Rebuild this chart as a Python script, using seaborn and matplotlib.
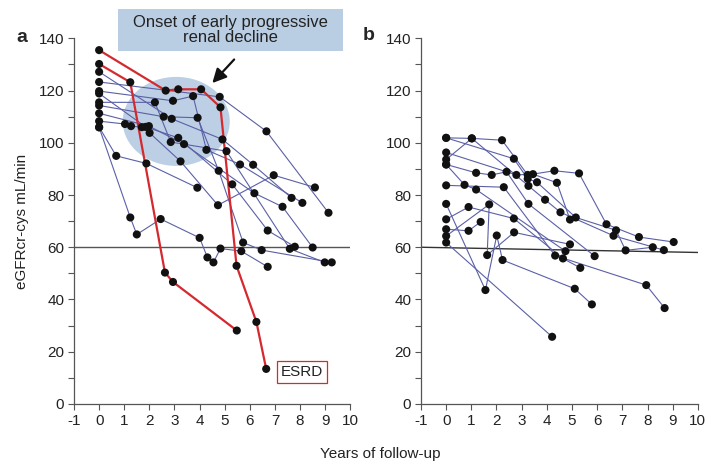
import pandas as pd
import seaborn as sns
import matplotlib
matplotlib.use("Agg")
import matplotlib.pyplot as plt
from matplotlib.patches import Ellipse, Rectangle
from matplotlib.ticker import MultipleLocator

# ---- data (years of follow-up, eGFR) ----
# panel a, blue trajectories
a_years = [
    [0, 2.89, 4.91, 6.13, 7.66],
    [0, 4.8, 6.66, 9.13],
    [0, 2.94, 3.74, 4.27, 5.61, 8.09],
    [0, 1.85, 3.15, 5.3, 6.71, 7.79],
    [0, 2.22, 2.85, 5.07, 7.59, 8.98],
    [0, 2.57, 3.92, 4.76, 5.73, 6.47, 9.26],
    [0, 1.98, 3.38, 6.18, 7.3, 8.5],
    [0, 1.03, 1.27, 1.7, 2.01, 3.24, 4.73, 6.95, 8.59],
    [0, 0.68, 1.88, 3.91],
    [0, 1.24, 1.5, 2.45, 4.0, 4.31, 4.55, 4.83, 5.66, 6.71],
]
a_egfr = [
    [127.2, 109.2, 101.3, 91.6, 78.9],
    [123.3, 117.6, 104.4, 73.2],
    [119.8, 116.1, 117.9, 97.3, 91.7, 77.0],
    [118.9, 106.1, 101.9, 84.1, 66.4, 60.2],
    [115.5, 115.5, 100.3, 96.8, 59.4, 54.2],
    [114.3, 110.0, 109.6, 89.3, 61.8, 58.9, 54.2],
    [111.3, 106.4, 99.5, 80.7, 75.5, 59.9],
    [108.3, 107.2, 106.4, 106.0, 103.8, 92.9, 76.1, 87.6, 82.9],
    [106.0, 95.0, 92.1, 82.8],
    [105.9, 71.4, 64.9, 70.8, 63.6, 56.1, 54.2, 59.5, 58.5, 52.5],
]
# panel a, red (progressors)
red_years = [
    [0, 2.65, 3.15, 4.06, 4.83, 5.47, 6.26, 6.65],
    [0, 1.24, 2.62, 2.94, 5.48],
]
red_egfr = [
    [135.5, 120.0, 120.5, 120.5, 113.6, 52.9, 31.4, 13.4],
    [130.2, 123.2, 50.3, 46.7, 28.1],
]
# panel b trajectories
b_years = [
    [0, 1.02, 2.22, 3.24, 4.3, 5.28, 6.37, 7.66, 9.04],
    [0, 2.69, 3.24, 3.61, 5.15, 6.75, 7.13, 8.21],
    [0, 1.02, 3.27, 3.93, 4.54, 6.65, 8.65],
    [0, 2.79, 3.45, 4.4, 4.92],
    [0, 1.19, 1.81, 2.4, 3.27, 5.9],
    [0, 0.73, 1.19, 4.74],
    [0, 1.56, 2.01, 2.24, 5.11, 5.79],
    [0, 4.21],
    [0, 2.29, 4.33, 7.95, 8.68],
    [0, 0.89, 2.69, 4.64, 5.33],
    [0, 1.71, 1.63, 2.7, 4.92],
    [0, 0.89, 1.37],
]
b_egfr = [
    [101.9, 101.7, 101.0, 87.7, 89.3, 88.3, 68.8, 63.9, 62.0],
    [101.9, 93.9, 86.2, 84.9, 71.4, 66.5, 58.8, 60.0],
    [93.6, 101.7, 83.5, 78.2, 73.4, 64.4, 58.9],
    [96.3, 87.7, 88.0, 84.7, 70.6],
    [91.7, 88.5, 87.7, 88.9, 76.6, 56.6],
    [91.7, 83.9, 82.1, 58.5],
    [76.6, 43.6, 64.5, 55.1, 44.1, 38.1],
    [61.8, 25.7],
    [83.7, 83.0, 56.8, 45.5, 36.7],
    [70.7, 75.4, 71.0, 55.7, 52.1],
    [64.3, 76.4, 57.0, 65.7, 61.1],
    [66.9, 66.3, 69.7],
]
threshold = 60
b_threshold = [60, 58]  # slightly tilted reference line in panel b


def to_long(years, egfr, prefix):
    rows = []
    for i, (xs, ys) in enumerate(zip(years, egfr)):
        for k, (x, y) in enumerate(zip(xs, ys)):
            rows.append({"id": f"{prefix}{i}", "order": k, "years": x, "egfr": y})
    return pd.DataFrame(rows)


df_a = to_long(a_years, a_egfr, "a")
df_red = to_long(red_years, red_egfr, "r")
df_b = to_long(b_years, b_egfr, "b")

sns.set_theme(style="ticks")
plt.rcParams["font.family"] = ["Liberation Sans", "DejaVu Sans"]
plt.rcParams["axes.unicode_minus"] = False
plt.rcParams["axes.edgecolor"] = "#555555"
plt.rcParams["xtick.color"] = "#555555"
plt.rcParams["ytick.color"] = "#555555"
plt.rcParams["xtick.labelcolor"] = "#222222"
plt.rcParams["ytick.labelcolor"] = "#222222"

BLUE = "#5b60a6"
RED = "#d42a2f"

fig = plt.figure(figsize=(7.15, 4.71), dpi=100)
ax_a = fig.add_axes([0.1035, 0.1425, 0.3865, 0.776])
ax_b = fig.add_axes([0.5888, 0.1425, 0.3872, 0.776])

# ellipse marking early decline
ax_a.add_patch(Ellipse((3.07, 108.2), 4.26, 34.1, facecolor="#bccfe4",
                       edgecolor="none", zorder=0))

for ax, df in [(ax_a, df_a), (ax_b, df_b)]:
    sns.lineplot(data=df, x="years", y="egfr", units="id", estimator=None,
                 sort=False, color=BLUE, lw=0.8, ax=ax, zorder=2)

sns.lineplot(data=df_red, x="years", y="egfr", units="id", estimator=None,
             sort=False, color=RED, lw=1.6, ax=ax_a, zorder=3)

for ax, df in [(ax_a, pd.concat([df_a, df_red])), (ax_b, df_b)]:
    sns.scatterplot(data=df, x="years", y="egfr", color="#111111", s=34,
                    edgecolor="none", ax=ax, zorder=4)

ax_a.plot([-1, 10], [threshold, threshold], color="#555555", lw=1, zorder=1)
ax_b.plot([-1, 10], b_threshold, color="#333333", lw=1, zorder=1)

for ax in (ax_a, ax_b):
    ax.set_xlim(-1, 10)
    ax.set_ylim(0, 140)
    ax.set_xticks(range(-1, 11))
    ax.set_yticks(range(0, 141, 20))
    ax.yaxis.set_minor_locator(MultipleLocator(10))
    ax.tick_params(axis="both", which="major", length=4, width=0.8,
                   labelsize=11, pad=3)
    ax.tick_params(axis="y", which="minor", length=4, width=0.8)
    ax.set_xlabel("")
    ax.set_ylabel("")
    sns.despine(ax=ax)
    for sp in ("left", "bottom"):
        ax.spines[sp].set_linewidth(0.9)

# annotations
box = Rectangle((118 / 715, 1 - 51 / 471), 225 / 715, 42 / 471,
                transform=fig.transFigure, facecolor="#b9cde3",
                edgecolor="none", zorder=5)
fig.patches.append(box)
fig.text(230.5 / 715, 1 - 30 / 471, "Onset of early progressive\nrenal decline",
         ha="center", va="center", fontsize=12, color="#222222",
         linespacing=1.0, zorder=6)
ax_a.annotate("", xy=(4.43, 122.1), xytext=(5.45, 132.7),
              arrowprops=dict(arrowstyle="-|>,head_width=0.35,head_length=0.7",
                              color="#111111", lw=1.6),
              annotation_clip=False)
ax_a.text(8.07, 12.3, "ESRD", ha="center", va="center", fontsize=11,
          color="#222222",
          bbox=dict(boxstyle="square,pad=0.25", facecolor="white",
                    edgecolor=RED, lw=0.9))

fig.text(22 / 715, 1 - 38 / 471, "a", fontsize=14, fontweight="bold",
         ha="center", va="center")
fig.text(369 / 715, 1 - 36 / 471, "b", fontsize=14, fontweight="bold",
         ha="center", va="center")
fig.text(22 / 715, 1 - 221 / 471, "eGFRcr-cys mL/min", rotation=90,
         fontsize=11, ha="center", va="center", color="#222222")
fig.text(380 / 715, 1 - 454 / 471, "Years of follow-up", fontsize=11,
         ha="center", va="center", color="#222222")

fig.savefig("out.png", dpi=100)
